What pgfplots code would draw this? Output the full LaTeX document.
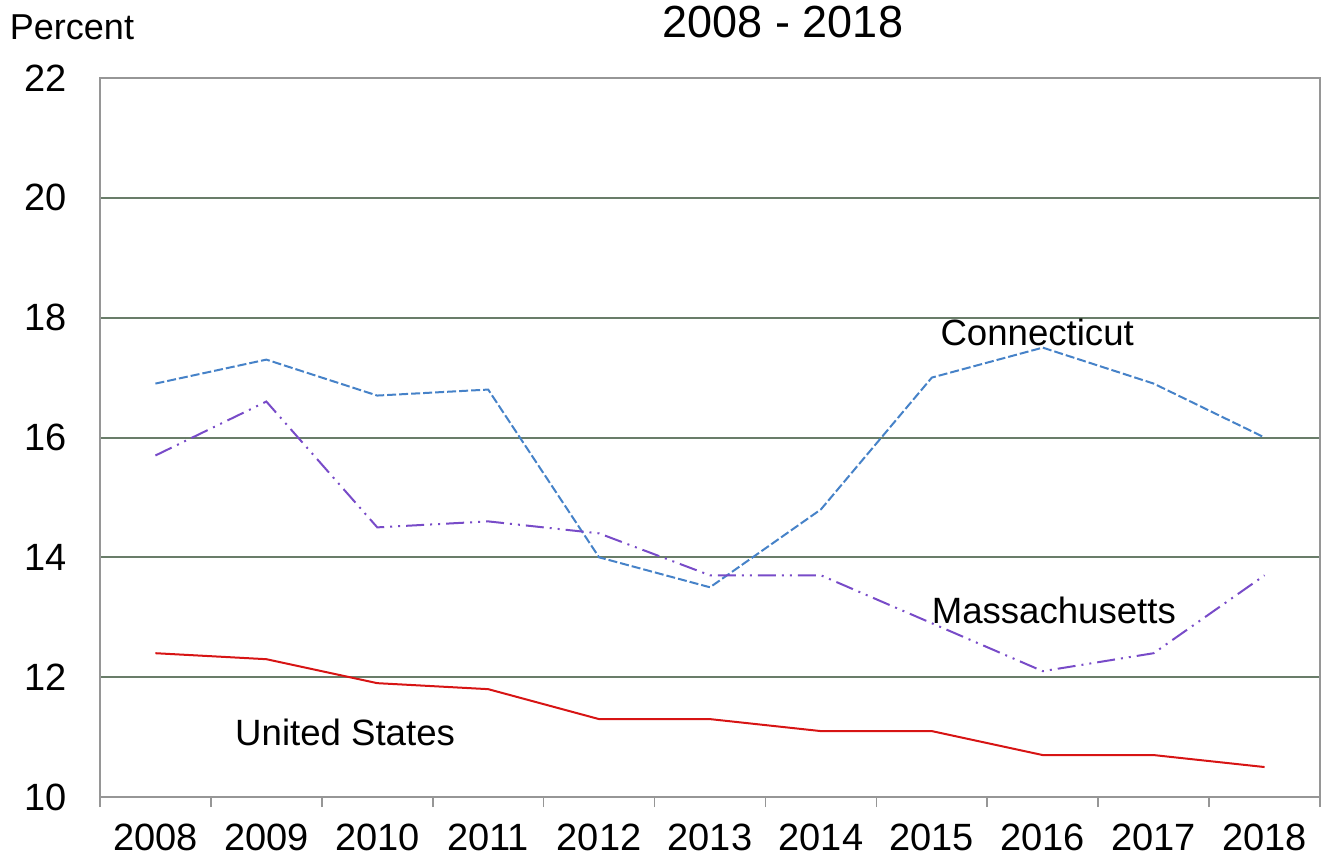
\documentclass[border=0pt]{standalone}
\usepackage{pgfplots}
\pgfplotsset{compat=1.18}
\usepackage{fontspec}
\setmainfont{Liberation Sans}
\definecolor{gridc}{RGB}{105,125,105}
\definecolor{framec}{RGB}{150,150,150}
\definecolor{ctblue}{RGB}{70,130,200}
\definecolor{mapurple}{RGB}{120,75,200}
\definecolor{usred}{RGB}{215,20,20}
\begin{document}
\begin{tikzpicture}
\useasboundingbox (-50pt,-31pt) rectangle (611.5pt,398.5pt);
\begin{axis}[
  at={(0,0)}, anchor=south west,
  scale only axis,
  width=610pt, height=359.5pt,
  xmin=-0.5, xmax=10.5,
  ymin=10, ymax=22,
  xtick={0,...,10},
  xticklabels={2008,2009,2010,2011,2012,2013,2014,2015,2016,2017,2018},
  ytick={10,12,...,22},
  xtick pos=bottom, ytick pos=left,
  major tick length=0pt,
  extra x ticks={-0.5,0.5,...,10.5},
  extra x tick labels={},
  extra x tick style={major tick length=5pt, tick align=outside, grid=none, tick style={draw=framec, line width=0.8pt}},
  ymajorgrids,
  grid style={draw=gridc, line width=1pt},
  axis line style={draw=framec, line width=0.7pt},
  tick label style={font=\fontsize{19}{23}\selectfont},
  /pgf/number format/assume math mode=true,
  xticklabel style={yshift=-10pt},
  yticklabel style={xshift=-13pt},
  clip=false,
]
\addplot[ctblue, line width=1pt, dash pattern=on 4.5pt off 1.5pt] coordinates {
(0,16.9) (1,17.3) (2,16.7) (3,16.8) (4,14.0) (5,13.5) (6,14.8) (7,17.0) (8,17.5) (9,16.9) (10,16.0)};
\addplot[mapurple, line width=1pt, dash pattern=on 9pt off 3pt on 1pt off 3pt on 1pt off 3pt] coordinates {
(0,15.7) (1,16.6) (2,14.5) (3,14.6) (4,14.4) (5,13.7) (6,13.7) (7,12.9) (8,12.1) (9,12.4) (10,13.7)};
\addplot[usred, line width=1pt] coordinates {
(0,12.4) (1,12.3) (2,11.9) (3,11.8) (4,11.3) (5,11.3) (6,11.1) (7,11.1) (8,10.7) (9,10.7) (10,10.5)};
\node[font=\fontsize{18.3}{22}\selectfont] at (axis cs:7.95,17.75) {Connecticut};
\node[font=\fontsize{18.3}{22}\selectfont] at (axis cs:8.1,13.12) {Massachusetts};
\node[font=\fontsize{18.3}{22}\selectfont] at (axis cs:1.71,11.07) {United States};
\end{axis}
\node[font=\fontsize{22.5}{27}\selectfont] at (341.5pt,387.5pt) {2008 - 2018};
\node[font=\fontsize{18}{22}\selectfont] at (-14pt,385pt) {Percent};
\end{tikzpicture}
\end{document}
